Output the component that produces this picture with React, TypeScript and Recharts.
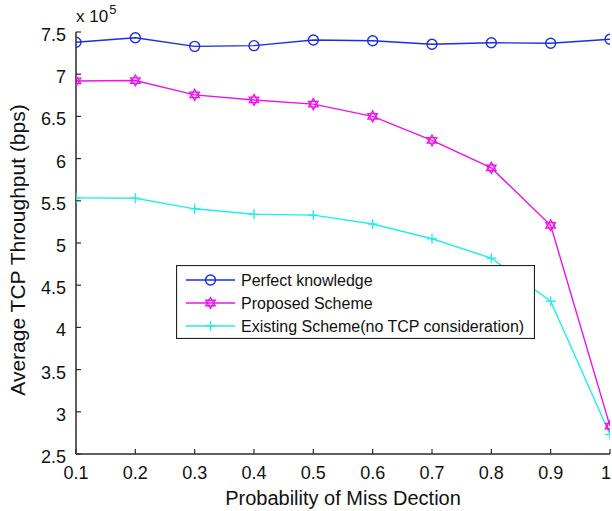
import React from 'react';
import { LineChart, Line, XAxis, YAxis, Legend } from 'recharts';

const xValues = [0.1, 0.2, 0.3, 0.4, 0.5, 0.6, 0.7, 0.8, 0.9, 1.0];
const perfectKnowledge = [7.378, 7.432, 7.33, 7.338, 7.405, 7.397, 7.354, 7.373, 7.366, 7.414];
const proposedScheme = [6.92, 6.925, 6.755, 6.695, 6.645, 6.5, 6.215, 5.89, 5.21, 2.83];
const existingScheme = [5.535, 5.53, 5.405, 5.34, 5.33, 5.225, 5.05, 4.82, 4.31, 2.73];

const xTicks = [0.1, 0.2, 0.3, 0.4, 0.5, 0.6, 0.7, 0.8, 0.9, 1.0];
const xTickLabels = ['0.1', '0.2', '0.3', '0.4', '0.5', '0.6', '0.7', '0.8', '0.9', '1'];
const yTicks = [2.5, 3, 3.5, 4, 4.5, 5, 5.5, 6, 6.5, 7, 7.5];
const yTickLabels = ['2.5', '3', '3.5', '4', '4.5', '5', '5.5', '6', '6.5', '7', '7.5'];

const seriesNames = ['Perfect knowledge', 'Proposed Scheme', 'Existing Scheme(no TCP consideration)'];
const xTitle = 'Probability of Miss Dection';
const yTitle = 'Average TCP Throughput (bps)';

const BLUE = '#1a2ee6';
const MAGENTA = '#ee11ee';
const CYAN = '#22eeee';
const AXIS = '#2a2a2a';
const FONT = '"Liberation Sans", Arial, sans-serif';

const data = xValues.map((x, i) => ({
  x,
  perfect: perfectKnowledge[i],
  proposed: proposedScheme[i],
  existing: existingScheme[i],
}));

const circleShape = (cx: number, cy: number, color: string, key?: any) => (
  <circle key={key} cx={cx} cy={cy} r={5} fill="none" stroke={color} strokeWidth={1.4} />
);
const starShape = (cx: number, cy: number, color: string, key?: any) => {
  const r = 5.5;
  const tri = (rot: number) =>
    [0, 1, 2]
      .map((k) => {
        const a = rot + (k * 2 * Math.PI) / 3;
        return `${cx + r * Math.sin(a)},${cy - r * Math.cos(a)}`;
      })
      .join(' ');
  return (
    <g key={key}>
      <polygon points={tri(0)} fill="none" stroke={color} strokeWidth={1.3} />
      <polygon points={tri(Math.PI)} fill="none" stroke={color} strokeWidth={1.3} />
    </g>
  );
};
const plusShape = (cx: number, cy: number, color: string, key?: any) => (
  <g key={key}>
    <line x1={cx - 5} x2={cx + 5} y1={cy} y2={cy} stroke={color} strokeWidth={1.4} />
    <line x1={cx} x2={cx} y1={cy - 5} y2={cy + 5} stroke={color} strokeWidth={1.4} />
  </g>
);

const CircleDot = (p: any) => circleShape(p.cx, p.cy, BLUE, p.key);
const StarDot = (p: any) => starShape(p.cx, p.cy, MAGENTA, p.key);
const PlusDot = (p: any) => plusShape(p.cx, p.cy, CYAN, p.key);

const BottomTick = (p: any) => {
  const { x, y, payload } = p;
  const idx = xTicks.indexOf(payload.value);
  const isLast = idx === xTicks.length - 1;
  return (
    <g>
      <line x1={x} x2={x} y1={y} y2={y - 5} stroke={AXIS} strokeWidth={1.2} />
      <text
        x={isLast ? x + 1 : x}
        y={y + 25}
        textAnchor={isLast ? 'end' : 'middle'}
        fontSize={18}
        fontFamily={FONT}
        fill="#111"
      >
        {xTickLabels[idx]}
      </text>
    </g>
  );
};
const TopTick = (p: any) => {
  const { x, y } = p;
  return <line x1={x} x2={x} y1={y} y2={y + 5} stroke={AXIS} strokeWidth={1.2} />;
};
const LeftTick = (p: any) => {
  const { x, y, payload } = p;
  const idx = yTicks.indexOf(payload.value);
  return (
    <g>
      <line x1={x} x2={x + 5} y1={y} y2={y} stroke={AXIS} strokeWidth={1.2} />
      <text x={x - 10} y={y + 9} textAnchor="end" fontSize={18} fontFamily={FONT} fill="#111">
        {yTickLabels[idx]}
      </text>
    </g>
  );
};
const RightTick = (p: any) => {
  const { x, y } = p;
  return <line x1={x} x2={x - 5} y1={y} y2={y} stroke={AXIS} strokeWidth={1.2} />;
};

const legendEntries = [
  { name: seriesNames[0], color: BLUE, shape: circleShape },
  { name: seriesNames[1], color: MAGENTA, shape: starShape },
  { name: seriesNames[2], color: CYAN, shape: plusShape },
];

const LegendBox = () => (
  <svg width={359} height={74} style={{ display: 'block' }}>
    <rect x={0.5} y={0.5} width={358} height={73} fill="#fff" stroke="#222" strokeWidth={1.2} />
    {legendEntries.map((e, i) => {
      const cy = 15 + i * 23;
      return (
        <g key={e.name}>
          <line x1={10} x2={59} y1={cy} y2={cy} stroke={e.color} strokeWidth={1.4} />
          {e.shape(34.5, cy, e.color)}
          <text x={65} y={cy + 6} fontSize={16} fontFamily={FONT} fill="#111">
            {e.name}
          </text>
        </g>
      );
    })}
  </svg>
);

export default function App() {
  return (
    <div style={{ position: 'absolute', left: 0, top: 0, width: 612, height: 511, background: '#fff' }}>
      <LineChart width={612} height={511} data={data} margin={{ top: 32, right: 2, bottom: 0, left: 0 }}>
        <XAxis
          dataKey="x"
          type="number"
          domain={[0.1, 1]}
          ticks={xTicks}
          height={57}
          tickSize={0}
          tickMargin={0}
          tickLine={false}
          tick={<BottomTick />}
          axisLine={{ stroke: AXIS, strokeWidth: 1.5 }}
          interval={0}
          allowDataOverflow
        />
        <XAxis
          xAxisId="top"
          orientation="top"
          dataKey="x"
          type="number"
          domain={[0.1, 1]}
          ticks={xTicks}
          height={0}
          tickSize={0}
          tickMargin={0}
          tickLine={false}
          tick={<TopTick />}
          axisLine={{ stroke: AXIS, strokeWidth: 1.5 }}
          interval={0}
          allowDataOverflow
        />
        <YAxis
          type="number"
          domain={[2.5, 7.5]}
          ticks={yTicks}
          width={76}
          tickSize={0}
          tickMargin={0}
          tickLine={false}
          tick={<LeftTick />}
          axisLine={{ stroke: AXIS, strokeWidth: 1.5 }}
          interval={0}
          allowDataOverflow
          label={() => {
            const cx = 25;
            const cy = 250;
            return (
              <text
                x={cx}
                y={cy}
                transform={`rotate(-90, ${cx}, ${cy})`}
                textAnchor="middle"
                fontSize={21}
                fontFamily={FONT}
                fill="#111"
              >
                {yTitle}
              </text>
            );
          }}
        />
        <YAxis
          yAxisId="right"
          orientation="right"
          type="number"
          domain={[2.5, 7.5]}
          ticks={yTicks}
          width={0}
          tickSize={0}
          tickMargin={0}
          tickLine={false}
          tick={<RightTick />}
          axisLine={{ stroke: AXIS, strokeWidth: 1.5 }}
          interval={0}
          allowDataOverflow
        />
        <Legend
          layout="horizontal"
          align="center"
          verticalAlign="middle"
          content={<LegendBox />}
          wrapperStyle={{ position: 'absolute', left: 176, top: 265, width: 359, height: 74 }}
        />
        <Line
          dataKey="perfect"
          name={seriesNames[0]}
          stroke={BLUE}
          strokeWidth={1.4}
          dot={<CircleDot />}
          activeDot={false}
          isAnimationActive={false}
          type="linear"
        />
        <Line
          dataKey="proposed"
          name={seriesNames[1]}
          stroke={MAGENTA}
          strokeWidth={1.4}
          dot={<StarDot />}
          activeDot={false}
          isAnimationActive={false}
          type="linear"
        />
        <Line
          dataKey="existing"
          name={seriesNames[2]}
          stroke={CYAN}
          strokeWidth={1.4}
          dot={<PlusDot />}
          activeDot={false}
          isAnimationActive={false}
          type="linear"
        />
      </LineChart>
      <div
        style={{
          position: 'absolute',
          left: 76,
          top: 6,
          fontFamily: FONT,
          fontSize: 17,
          lineHeight: '22px',
          color: '#111',
          whiteSpace: 'nowrap',
        }}
      >
        x 10<span style={{ fontSize: 13, position: 'relative', top: -8, marginLeft: 1 }}>5</span>
      </div>
      <div
        style={{
          position: 'absolute',
          left: 76,
          width: 534,
          top: 486,
          textAlign: 'center',
          fontFamily: FONT,
          fontSize: 20,
          lineHeight: '24px',
          color: '#111',
          whiteSpace: 'nowrap',
        }}
      >
        {xTitle}
      </div>
    </div>
  );
}
